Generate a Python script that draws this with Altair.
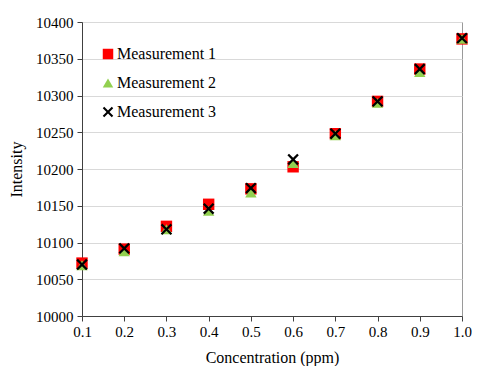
import altair as alt
import pandas as pd

conc = [0.1, 0.2, 0.3, 0.4, 0.5, 0.6, 0.7, 0.8, 0.9, 1.0]
m1 = [10072, 10091, 10122, 10152, 10173, 10203, 10248, 10292, 10336, 10377]
m2 = [10069, 10088, 10118, 10143, 10168, 10208, 10246, 10290, 10332, 10377]
m3 = [10070, 10092, 10118, 10146, 10174, 10213, 10248, 10292, 10336, 10378]
series = ["Measurement 1", "Measurement 2", "Measurement 3"]

rows = []
for name, vals in zip(series, [m1, m2, m3]):
    for c, v in zip(conc, vals):
        rows.append({"Concentration": c, "Intensity": v, "Series": name})
df = pd.DataFrame(rows)

xpath = ("M-1,-0.72L-0.72,-1L0,-0.28L0.72,-1L1,-0.72L0.28,0L1,0.72L0.72,1"
         "L0,0.28L-0.72,1L-1,0.72L-0.28,0Z")

serif = "Liberation Serif"

leg = alt.Legend(title=None, orient="none", legendX=18, legendY=24,
                 symbolSize=110, rowPadding=13, labelOffset=1, padding=0,
                 labelFont=serif, labelFontSize=16, labelColor="#000000",
                 labelLimit=0)

points = alt.Chart(df).mark_point(filled=True, opacity=1, size=130).encode(
    x=alt.X("Concentration:Q",
            scale=alt.Scale(domain=[0.1, 1.0], nice=False, zero=False),
            axis=alt.Axis(values=conc, format=".1f", grid=False,
                          title="Concentration (ppm)", tickSize=5,
                          labelPadding=3, titlePadding=10)),
    y=alt.Y("Intensity:Q",
            scale=alt.Scale(domain=[10000, 10400], nice=False, zero=False),
            axis=alt.Axis(values=list(range(10000, 10401, 50)), grid=True,
                          format="d", title="Intensity", tickSize=5,
                          labelPadding=4, titlePadding=11)),
    color=alt.Color("Series:N",
                    scale=alt.Scale(domain=series,
                                    range=["#FF0000", "#92D050", "#000000"]),
                    legend=leg),
    shape=alt.Shape("Series:N",
                    scale=alt.Scale(domain=series,
                                    range=["square", "triangle-up", xpath]),
                    legend=leg),
)

chart = points.properties(
    width=380, height=294,
    padding={"left": 74, "top": 14, "right": 10, "bottom": 50},
    autosize=alt.AutoSizeParams(type="none"),
).configure(
    font=serif
).configure_view(
    stroke="#9a9a9a", strokeWidth=1
).configure_axis(
    labelFont=serif, titleFont=serif, labelFontSize=15, titleFontSize=16,
    titleFontWeight="normal", labelColor="#000000", titleColor="#000000",
    domainColor="#404040", tickColor="#404040", gridColor="#d9d9d9",
    labelFlush=False
).configure_legend(
    labelFont=serif, labelFontSize=16, labelColor="#000000", labelLimit=0
)

chart.save("out.html", embed_options={"renderer": "svg", "actions": False})
